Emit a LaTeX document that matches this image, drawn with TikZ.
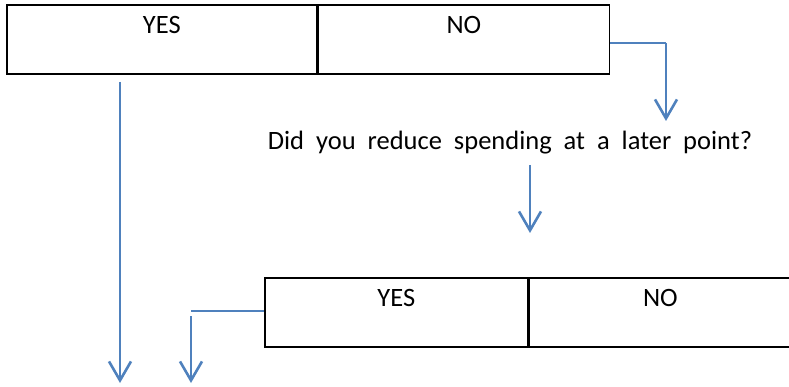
\documentclass[tikz,border=0pt]{standalone}
\usepackage{fontspec}
\setmainfont{Carlito}
\usetikzlibrary{positioning, calc, arrows.meta}
\definecolor{flowblue}{HTML}{4F81BD}

\begin{document}
\begin{tikzpicture}[
        x=1pt, y=-1pt,
        font=\fontsize{26.5}{30}\selectfont,
        cell/.style={rectangle, draw, line width=1.6pt, inner sep=0pt, anchor=north west,
                     text height=28.5pt, text depth=40.5pt, align=center},
        flow/.style={draw=flowblue, line width=2.6pt,
                     -{Straight Barb[length=19pt, width=22pt, line width=2.6pt]}},
        link/.style={draw=flowblue, line width=2.6pt}
    ]
        \useasboundingbox (0,0) rectangle (789,387);

        % Nodes
        \node [cell, minimum width=310pt] (topyes) at (6,4) {YES};
        \node [cell, minimum width=291pt, right=0pt of topyes] (topno) {NO};

        \node (question) at (510,143) {Did\ \ you\ \ reduce\ \ spending\ \ at\ \ a\ \ later\ \ point?};

        \node [cell, minimum width=263pt] (botyes) at (264,277) {YES};
        \node [cell, minimum width=262pt, right=0pt of botyes] (botno) {NO};

        % Coordinates
        \coordinate (noturn) at (666,43);
        \coordinate (noend) at (666,121);
        \coordinate (qstart) at (530,165);
        \coordinate (qend) at (530,233);
        \coordinate (yesstart) at (120,82);
        \coordinate (yesend) at (120,383);
        \coordinate (botturn) at (191,311);
        \coordinate (botdrop) at (191,316);
        \coordinate (botend) at (191,383);

        % Edges
        \draw [link] (topno.east |- noturn) -- (noturn);
        \draw [flow] (noturn) -- (noend);
        \draw [flow] (qstart) -- (qend);
        \draw [flow] (yesstart) -- (yesend);
        \draw [link] (botyes.west |- botturn) -- (botturn);
        \draw [flow] (botdrop) -- (botend);

    \end{tikzpicture}
\end{document}
